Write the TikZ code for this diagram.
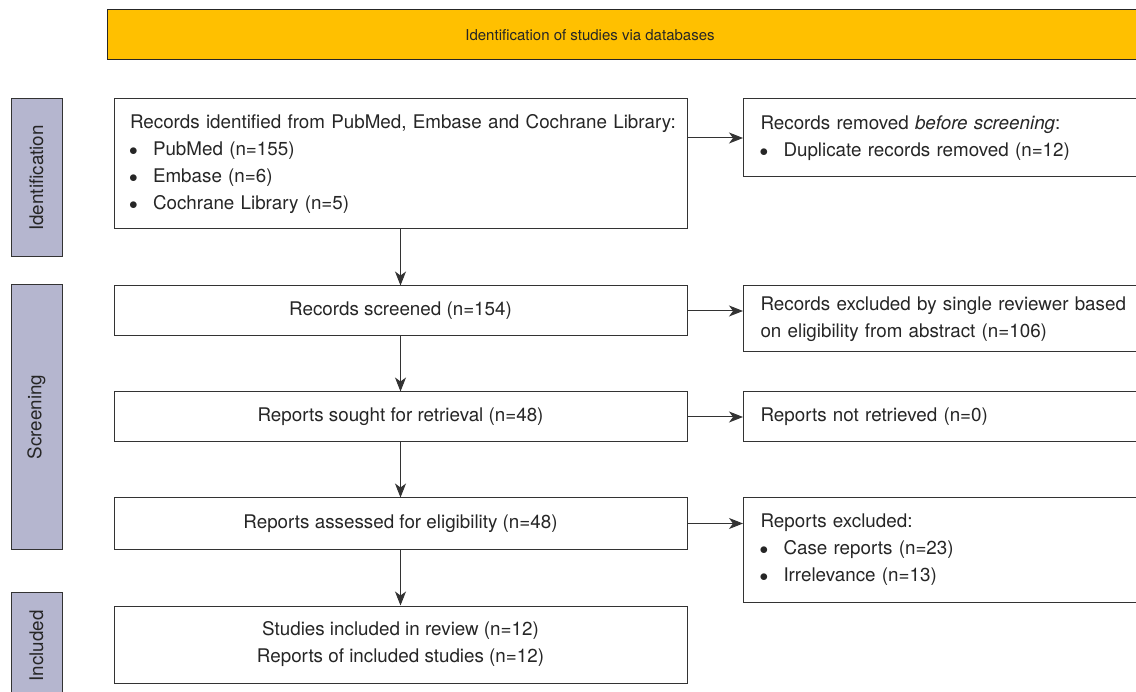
\documentclass[tikz,border=0pt]{standalone}
\usepackage{fontspec}
\setmainfont{TeX Gyre Heros}
\usetikzlibrary{arrows.meta}

\definecolor{bannerfill}{HTML}{FFC000}
\definecolor{sidefill}{HTML}{B5B6CF}
\definecolor{linegray}{HTML}{333333}

\newcommand{\bitem}[1]{\makebox[23pt][l]{\hspace{-1pt}$\bullet$}#1}

\begin{document}
\begin{tikzpicture}[x=1pt, y=-1pt,
    box/.style={draw=linegray, line width=1pt, fill=white, text=black!85,
        font=\fontsize{18.8}{27}\selectfont, inner sep=0pt},
    mainbox/.style={box, minimum width=573, align=center},
    sidebox/.style={box, fill=sidefill, rotate=90, minimum height=51},
    rightbox/.style={box, anchor=west, minimum width=420, text width=386, align=left},
    arr/.style={draw=linegray, line width=1pt, -{Stealth[length=14pt, width=11pt, inset=4pt]}}]
        \useasboundingbox (0,0) rectangle (1136,692);
        \clip (0,0) rectangle (1136,692);

        % Banner
        \node[box, fill=bannerfill, draw=black!85, anchor=west, minimum width=1060, minimum height=50] (banner) at (107, 35) {};
        \node[text=black!85, font=\fontsize{15}{18}\selectfont] (bannertxt) at (590, 35) {Identification of studies via databases};

        % Phase labels
        \foreach \nm/\y/\len/\txt in {sideid/178/158/Identification, sidescr/417/264/Screening, sideinc/646/108/Included} {
            \node[sidebox, minimum width=\len] (\nm) at (36.5, \y) {\txt};
        }

        % Main column
        \node[mainbox, minimum height=130, text width=541, align=left] (ident) at (400.5, 164) {\mbox{Records identified from PubMed, Embase and Cochrane Library:}\\
            \bitem{PubMed (n=155)}\\
            \bitem{Embase (n=6)}\\
            \bitem{Cochrane Library (n=5)}};
        \node[mainbox, minimum height=50] (screen) at (400.5, 311) {Records screened (n=154)};
        \node[mainbox, minimum height=50] (sought) at (400.5, 417) {Reports sought for retrieval (n=48)};
        \node[mainbox, minimum height=51] (assess) at (400.5, 523.5) {Reports assessed for eligibility (n=48)};
        \node[mainbox, minimum height=77] (incl) at (400.5, 644.5) {Studies included in review (n=12)\\Reports of included studies (n=12)};

        % Right column
        \node[rightbox, minimum height=78] (dup) at (743, 138) {Records removed \textit{before screening}:\\
            \bitem{Duplicate records removed (n=12)}};
        \node[rightbox, minimum height=66] (excl) at (743, 319) {Records excluded by single reviewer based\\on eligibility from abstract (n=106)};
        \node[rightbox, minimum height=50] (notret) at (743, 417) {Reports not retrieved (n=0)};
        \node[rightbox, minimum height=104] (repexcl) at (743, 550) {Reports excluded:\\
            \bitem{Case reports (n=23)}\\
            \bitem{Irrelevance (n=13)}};

        % Arrows
        \draw[arr] (ident) -- (screen);
        \draw[arr] (screen) -- (sought);
        \draw[arr] (sought) -- (assess);
        \draw[arr] (assess) -- (incl);
        \draw[arr] (ident.east |- dup.west) -- (dup.west);
        \draw[arr] (screen.east) -- (screen.east -| excl.west);
        \draw[arr] (sought) -- (notret);
        \draw[arr] (assess.east) -- (assess.east -| repexcl.west);
    \end{tikzpicture}
\end{document}
